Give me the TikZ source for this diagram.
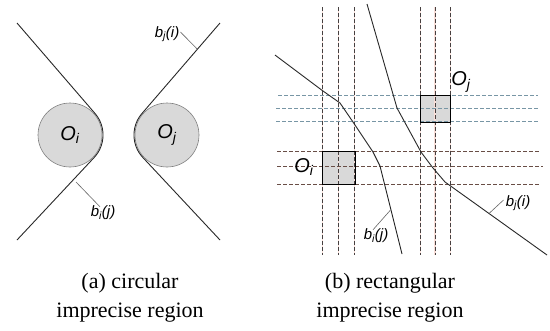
\documentclass[tikz,border=0pt]{standalone}
\usepackage{fontspec}
\setmainfont{Liberation Serif}
\newfontfamily\sansf{Liberation Sans}
\usetikzlibrary{calc}
\newcommand\sublab[2]{{\sansf\itshape #1\textsubscript{#2}}}
\definecolor{vdash}{RGB}{70,64,64}
\definecolor{vhalo}{RGB}{248,222,216}
\definecolor{hblue}{RGB}{120,150,165}
\definecolor{hbrown}{RGB}{105,78,70}
\definecolor{regfill}{RGB}{217,217,217}
\definecolor{curvecol}{RGB}{40,40,40}
\begin{document}
\begin{tikzpicture}[x=1pt,y=-1pt,
  curve/.style={draw=curvecol,line width=0.9pt,line join=round},
  leader/.style={draw=gray!80!black,line width=0.6pt},
  blab/.style={inner sep=0pt,font=\fontsize{15}{17}\selectfont},
  olab/.style={inner sep=0pt,font=\fontsize{20}{22}\selectfont},
  circreg/.style={circle,draw=gray,line width=0.6pt,fill=regfill,minimum size=64pt,inner sep=0pt},
  rectreg/.style={rectangle,fill=regfill,inner sep=0pt},
  rectedge/.style={draw=black,line width=1.1pt},
  vline/.style={draw=vdash,line width=0.8pt,dash pattern=on 4pt off 2pt},
  vhalo/.style={draw=vhalo,line width=1.1pt},
  hbl/.style={draw=hblue,line width=0.8pt,dash pattern=on 4pt off 2pt},
  hbr/.style={draw=hbrown,line width=0.9pt,dash pattern=on 4pt off 2pt},
  caption/.style={align=center,inner sep=0pt,font=\fontsize{22}{29}\selectfont}]
\useasboundingbox[fill=white] (0,0) rectangle (550,330);

% ---------- (a) circular ----------
\node[circreg] (ci) at (70,135) {};
\node[circreg] (cj) at (167,135) {};
\node[olab] (ciL) at (70,135) {\sublab{O}{i}};
\node[olab] (cjL) at (167,135) {\sublab{O}{j}};

\coordinate (a1) at (17,23);
\coordinate (a2) at (17,240);
\coordinate (b1) at (220,23);
\coordinate (b2) at (220,240);
\coordinate (ta1) at (95,113.45);
\coordinate (tb1) at (142,113.45);
\draw[curve] (a1) -- plot[domain=-40.77:43.08,samples=40] ({70+33*cos(\x)},{135+33*sin(\x)}) -- (a2);
\draw[curve] (b2) -- plot[domain=136.92:220.77,samples=40] ({167+33*cos(\x)},{135+33*sin(\x)}) -- (b1);

\coordinate (pj) at ($(b1)!0.29!(tb1)$);
\coordinate (pi) at (76,182);
\node[blab] (lbj) at (167,34) {\sublab{b}{j}{\sansf\itshape(i)}};
\node[blab] (lbi) at (103,213) {\sublab{b}{i}{\sansf\itshape(j)}};
\draw[leader] ([xshift=1pt,yshift=2pt]lbj.east) -- (pj);
\draw[leader] ([xshift=-3pt,yshift=-1pt]lbi.north) -- (pi);

% ---------- (b) rectangular ----------
\node[rectreg,minimum width=33pt,minimum height=32.3pt] (ri) at (339.2,167.9) {};
\node[rectreg,minimum width=30pt,minimum height=26.6pt] (rj) at (435.7,109) {};

\foreach \xx in {322.5,338.3,354.5,420.7,435,450.3}{
  \draw[vhalo] (\xx,7) -- (\xx,255);
  \draw[vline] (\xx,7) -- (\xx,255);
}
\draw[hbl] (278,95.7) -- (538,95.7);
\draw[hbl] (276,108.3) -- (538,108.3);
\draw[hbl] (276,121.7) -- (538,121.7);
\draw[hbr] (277,151.7) -- (540,151.7);
\draw[hbr] (277,166.7) -- (543,166.7);
\draw[hbr] (277,184.2) -- (540,184.2);

\draw[rectedge] (ri.north west) rectangle (ri.south east);
\draw[rectedge] (rj.north west) rectangle (rj.south east);
\node[olab] (riL) at (304,167) {\sublab{O}{i}};
\node[olab] (rjL) at (461,82) {\sublab{O}{j}};

\coordinate (c1) at (275,55);
\coordinate (c2) at (323,91);
\coordinate (c3) at (340,103);
\coordinate (c4) at (353,122);
\coordinate (c5) at (373,152);
\coordinate (c6) at (380,166);
\coordinate (c7) at (402,254);
\draw[curve] (c1) -- (c2) -- (c3) -- (c4) -- (c5) -- (c6) -- (c7);

\coordinate (d1) at (367,4);
\coordinate (d2) at (397,108);
\coordinate (d3) at (421,152);
\coordinate (d4) at (433,168);
\coordinate (d5) at (445,182);
\coordinate (d6) at (547,255);
\draw[curve] (d1) -- (d2) -- (d3) -- (d4) -- (d5) -- (d6);

\coordinate (qi) at (390.5,210);
\coordinate (qj) at (489,213.5);
\node[blab] (rbi) at (376,236) {\sublab{b}{i}{\sansf\itshape(j)}};
\node[blab] (rbj) at (518,203) {\sublab{b}{j}{\sansf\itshape(i)}};
\draw[leader] ([xshift=-3pt,yshift=-1pt]rbi.north) -- (qi);
\draw[leader] ([xshift=-2pt,yshift=3pt]rbj.west) -- (qj);

% ---------- captions ----------
\node[caption] (capa) at (130,298) {(a) circular\\imprecise region};
\node[caption] (capb) at (390,298) {(b) rectangular\\imprecise region};
\end{tikzpicture}
\end{document}
